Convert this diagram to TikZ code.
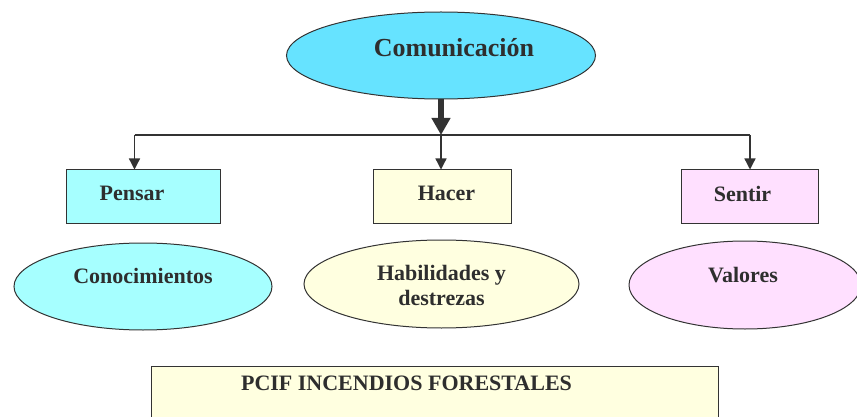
\documentclass[tikz,border=0pt]{standalone}
\usepackage{fontspec}
\setmainfont{Liberation Serif}
\usetikzlibrary{arrows.meta,shapes.geometric}
\definecolor{txtc}{HTML}{2E2E2E}
\definecolor{linec}{HTML}{333333}
\definecolor{topc}{HTML}{66E3FF}
\definecolor{cyanc}{HTML}{A6FFFF}
\definecolor{yelc}{HTML}{FFFFE0}
\definecolor{pinkc}{HTML}{FFE0FF}
\tikzset{
  ell/.style={ellipse, draw=linec, line width=1pt, inner sep=0pt},
  boxn/.style={rectangle, draw=linec, line width=1pt, inner sep=0pt},
  lbl/.style={text=txtc, font=\bfseries\fontsize{22}{25}\selectfont, align=center},
  biglbl/.style={text=txtc, font=\bfseries\fontsize{26}{30}\selectfont},
  conn/.style={draw=linec, line width=1.3pt},
  thin/.style={conn, -{Triangle[width=11pt,length=11pt]}},
  thick/.style={draw=linec, line width=6pt, -{Triangle[width=18pt,length=17pt]}}
}
\begin{document}
\begin{tikzpicture}[x=1pt,y=1pt]
\useasboundingbox (0,0) rectangle (857,-417);
\clip (0,0) rectangle (857,-417);

% top ellipse
\node[ell, fill=topc, minimum width=309pt, minimum height=87pt,
  label={[biglbl, xshift=13pt, yshift=8pt]center:Comunicación}] (com) at (441,-55.5) {};

% boxes
\node[boxn, fill=cyanc, minimum width=154pt, minimum height=53pt,
  label={[lbl, xshift=-11pt, yshift=3pt]center:Pensar}] (pensar) at (143,-196.5) {};
\node[boxn, fill=yelc, minimum width=138pt, minimum height=53pt,
  label={[lbl, xshift=4.5pt, yshift=3pt]center:Hacer}] (hacer) at (442,-196.5) {};
\node[boxn, fill=pinkc, minimum width=137pt, minimum height=53pt,
  label={[lbl, xshift=-7pt, yshift=3pt]center:Sentir}] (sentir) at (749.5,-196.5) {};

% lower ellipses
\node[ell, fill=cyanc, minimum width=258pt, minimum height=87pt,
  label={[lbl, yshift=11pt]center:Conocimientos}] (cono) at (143,-286.5) {};
\node[ell, fill=yelc, minimum width=275pt, minimum height=88pt,
  label={[lbl, yshift=-1pt]center:Habilidades y\\destrezas}] (habi) at (441.5,-284) {};
\node[ell, fill=pinkc, minimum width=232pt, minimum height=88pt,
  label={[lbl, xshift=-2pt, yshift=10pt]center:Valores}] (valo) at (745,-285) {};

% bottom box
\node[boxn, fill=yelc, minimum width=567pt, minimum height=70pt,
  label={[lbl, xshift=-28pt, yshift=18pt]center:PCIF INCENDIOS FORESTALES}] (pcif) at (434.5,-401) {};

% connectors
\coordinate (hm) at (441,-135);
\coordinate (hl) at (134.5,-135);
\coordinate (hr) at (750,-135);
\draw[conn] (hl) -- (hr);
\draw[thick] (com.south) -- (hm);
\draw[thin] (hl) -- (hl |- pensar.north);
\draw[thin] (hm) -- (hm |- hacer.north);
\draw[thin] (hr) -- (hr |- sentir.north);
\end{tikzpicture}
\end{document}
